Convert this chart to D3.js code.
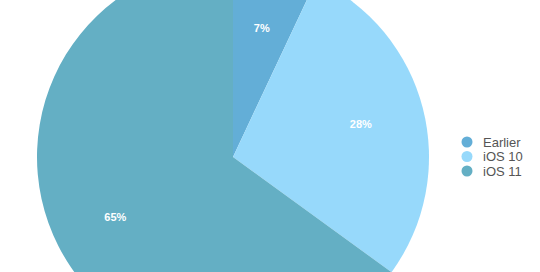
<!DOCTYPE html>
<html>
<head>
<meta charset="utf-8">
<script src="https://cdn.jsdelivr.net/npm/d3@7"></script>
<style>
  body { margin: 0; background: #fff; }
  svg { display: block; font-family: "Liberation Sans", Arial, sans-serif; }
</style>
</head>
<body>
<svg id="chart" width="540" height="272"></svg>
<script>
"use strict"

const categories = ["Earlier", "iOS 10", "iOS 11"]
const shares = [7, 28, 65]
const colors = ["#63aed7", "#97d9fb", "#64afc4"]

const width = 540
const height = 272
const cx = 233
const cy = 157
const radius = 196

const data = categories.map((c, i) => ({ name: c, value: shares[i], color: colors[i] }))

const svg = d3.select("#chart")

const pie = d3.pie().value(d => d.value).sort(null)
const arc = d3.arc().innerRadius(0).outerRadius(radius)
const labelArc = d3.arc().innerRadius(132).outerRadius(132)

const g = svg.append("g").attr("transform", `translate(${cx},${cy})`)

g.selectAll("path")
  .data(pie(data))
  .enter().append("path")
    .attr("d", arc)
    .attr("fill", d => d.data.color)

g.selectAll("text")
  .data(pie(data))
  .enter().append("text")
    .attr("transform", d => `translate(${labelArc.centroid(d)})`)
    .attr("text-anchor", "middle")
    .attr("dy", "0.35em")
    .attr("fill", "#fff")
    .attr("font-size", 11)
    .attr("font-weight", "bold")
    .text(d => d.data.value + "%")

const legend = svg.append("g").attr("transform", "translate(467,142)")

const item = legend.selectAll("g")
  .data(data)
  .enter().append("g")
    .attr("transform", (d, i) => `translate(0,${i * 14.5})`)

item.append("circle")
  .attr("r", 5.5)
  .attr("fill", d => d.color)

item.append("text")
  .attr("x", 16)
  .attr("dy", "0.35em")
  .attr("font-size", 13)
  .attr("fill", "#555")
  .text(d => d.name)
</script>
</body>
</html>
